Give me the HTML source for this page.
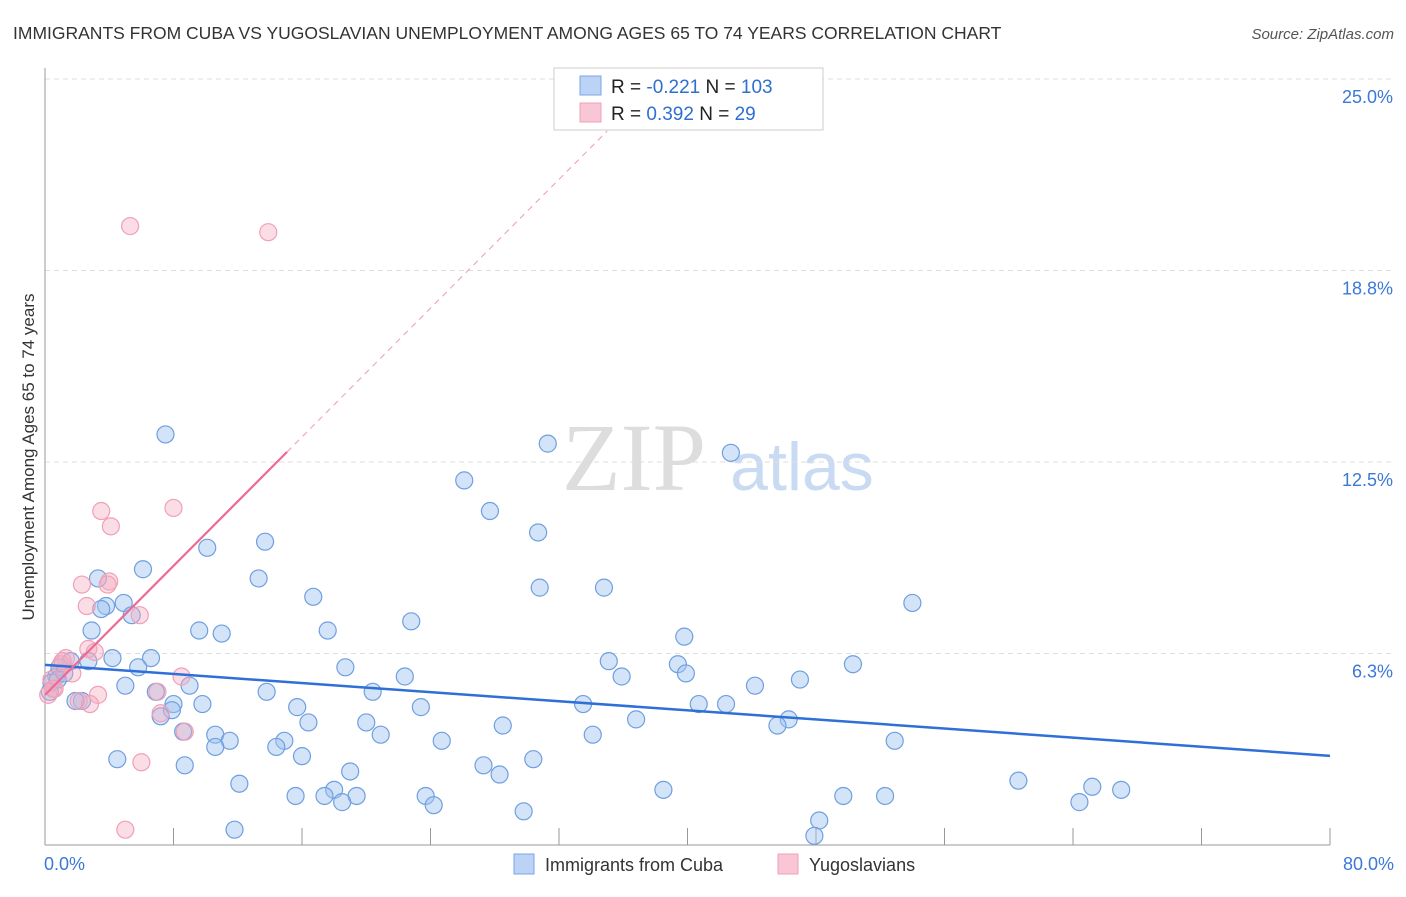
<!DOCTYPE html>
<html><head><meta charset="utf-8"><style>
body{margin:0;background:#fff;font-family:"Liberation Sans",sans-serif;}
svg text{font-family:"Liberation Sans",sans-serif;}
</style></head><body>
<svg id="chart" width="1406" height="892" xmlns="http://www.w3.org/2000/svg">
<text x="13" y="39" font-size="17.5" fill="#333">IMMIGRANTS FROM CUBA VS YUGOSLAVIAN UNEMPLOYMENT AMONG AGES 65 TO 74 YEARS CORRELATION CHART</text>
<text x="1394" y="39" font-size="15" fill="#555" text-anchor="end" font-style="italic">Source: ZipAtlas.com</text>
<g>
<text x="634" y="490" font-size="96" fill="#ddd" text-anchor="middle" font-family="Liberation Serif" style="font-family:'Liberation Serif',serif">ZIP</text>
<text x="802" y="490" font-size="68" fill="#c9daf3" text-anchor="middle">atlas</text>
</g>
<g id="grid"></g>
<g id="axes"></g>
<g id="pts"></g>
<g id="trend"></g>
<text transform="translate(34,457) rotate(-90)" font-size="17" fill="#333" text-anchor="middle">Unemployment Among Ages 65 to 74 years</text>
<g>
<rect x="554" y="68" width="269" height="62" fill="#fff" stroke="#ccc"/>
<rect x="580" y="76" width="21" height="19" fill="#bcd3f5" stroke="#7aa6e6"/>
<rect x="580" y="103" width="21" height="19" fill="#f8c6d4" stroke="#f0a0b8"/>
<text x="611" y="93" font-size="19" fill="#222">R = <tspan fill="#2f6fd0">-0.221</tspan>   N = <tspan fill="#2f6fd0">103</tspan></text>
<text x="611" y="120" font-size="19" fill="#222">R =  <tspan fill="#2f6fd0">0.392</tspan>   N =   <tspan fill="#2f6fd0">29</tspan></text>
</g>
<g>
<rect x="514" y="854" width="20" height="20" fill="#bcd3f5" stroke="#7aa6e6"/>
<text x="545" y="871" font-size="18" fill="#333">Immigrants from Cuba</text>
<rect x="778" y="854" width="20" height="20" fill="#f8c6d4" stroke="#f0a0b8"/>
<text x="809" y="871" font-size="18" fill="#333">Yugoslavians</text>
</g>
</svg>
<script>
const yTicks=[25.0,18.8,12.5,6.3];
const yTickPos=[25,18.75,12.5,6.25];
const xTickLabels=["0.0%","80.0%"];
const cubaX=[7.5,31.3,42.7,26.1,27.7,30.7,10.1,13.7,6.1,3.3,13.3,30.8,34.8,16.7,54.0,4.9,3.8,3.5,5.4,22.8,9.6,11.0,17.6,39.8,2.9,6.6,4.2,2.7,1.6,35.1,39.4,50.3,5.8,18.7,35.9,39.9,22.4,47.0,44.2,5.0,9.0,6.9,20.4,13.8,8.0,9.8,33.5,40.7,42.4,2.3,1.9,15.7,23.4,7.9,7.2,16.4,36.8,46.3,20.0,45.6,28.5,8.6,10.6,20.9,11.5,34.1,24.7,52.9,14.9,14.4,10.6,16.0,30.4,4.5,8.7,27.3,19.0,28.3,12.1,60.6,65.2,67.0,18.0,15.6,17.4,19.4,38.5,52.3,49.7,23.7,18.5,24.2,64.4,29.8,48.2,11.8,47.9,0.7,0.9,0.4,1.2,0.8,0.3];
const cubaY=[13.4,13.1,12.8,11.9,10.9,10.2,9.7,9.9,9.0,8.7,8.7,8.4,8.4,8.1,7.9,7.9,7.8,7.7,7.5,7.3,7.0,6.9,7.0,6.8,7.0,6.1,6.1,6.0,6.0,6.0,5.9,5.9,5.8,5.8,5.5,5.6,5.5,5.4,5.2,5.2,5.2,5.0,5.0,5.0,4.6,4.6,4.6,4.6,4.6,4.7,4.7,4.5,4.5,4.4,4.2,4.0,4.1,4.1,4.0,3.9,3.9,3.7,3.6,3.6,3.4,3.6,3.4,3.4,3.4,3.2,3.2,2.9,2.8,2.8,2.6,2.6,2.4,2.3,2.0,2.1,1.9,1.8,1.8,1.6,1.6,1.6,1.8,1.6,1.6,1.6,1.4,1.3,1.4,1.1,0.8,0.5,0.3,5.5,5.8,5.3,5.6,5.4,5.0];
const yugoX=[5.3,13.9,3.5,8.0,4.1,2.3,4.0,3.9,2.6,5.9,2.7,3.1,1.3,1.0,1.7,8.5,0.4,0.6,0.2,0.5,3.3,2.1,2.8,7.0,7.2,8.7,6.0,5.0,1.1];
const yugoY=[20.2,20.0,10.9,11.0,10.4,8.5,8.6,8.5,7.8,7.5,6.4,6.3,6.1,5.9,5.6,5.5,5.4,5.1,4.9,5.1,4.9,4.7,4.6,5.0,4.3,3.7,2.7,0.5,6.0];
const cubaTrend=[[0,5.88],[80,2.91]];
const yugoTrendSolid=[[0,4.9],[15.07,12.83]];
const yugoTrendDash=[[15.07,12.83],[35.0,23.3]];

const NS="http://www.w3.org/2000/svg";
const X=v=>45+v/80*1285;
const Y=v=>845-v/25*766;
function mk(tag,attrs,parent){const e=document.createElementNS(NS,tag);for(const k in attrs)e.setAttribute(k,attrs[k]);parent.appendChild(e);return e;}
const grid=document.getElementById('grid'),axes=document.getElementById('axes'),pts=document.getElementById('pts'),trend=document.getElementById('trend');
yTickPos.forEach((t,i)=>{
 const l=mk('line',{x1:45,x2:1394,y1:Y(t),y2:Y(t),stroke:'#ddd','stroke-dasharray':'5,4'},grid);
 
 
 const tx=mk('text',{x:1393,y:Y(t)+24,'font-size':18,fill:'#3b78d8','text-anchor':'end'},axes);
 tx.textContent=yTicks[i].toFixed(1)+'%';
 
 
});
const ya=mk('line',{x1:45,x2:45,y1:68,y2:845,stroke:'#999'},axes);


const xa=mk('line',{x1:45,x2:1330,y1:845,y2:845,stroke:'#999'},axes);


for(let v=8;v<=80;v+=8){
 const t=mk('line',{x1:X(v),x2:X(v),y1:828,y2:845,stroke:'#999'},axes);
 
 
}
[[0,'start',44],[80,'end',1394]].forEach((d,i)=>{
 const t=mk('text',{x:d[2],y:870,'font-size':18,fill:'#3b78d8','text-anchor':d[1]},axes);
 t.textContent=xTickLabels[i];
 
 
});
cubaX.forEach((x,i)=>{
 const c=mk('circle',{cx:X(x),cy:Y(cubaY[i]),r:8.5,fill:'rgba(160,196,240,0.45)',stroke:'#6f9fe0','stroke-width':1.2},pts);
 
 
});
yugoX.forEach((x,i)=>{
 const c=mk('circle',{cx:X(x),cy:Y(yugoY[i]),r:8.5,fill:'rgba(245,170,190,0.4)',stroke:'#f0a0b8','stroke-width':1.2},pts);
 
 
});
function ln(p,attrs,name){const l=mk('line',Object.assign({x1:X(p[0][0]),y1:Y(p[0][1]),x2:X(p[1][0]),y2:Y(p[1][1])},attrs),trend);
 
 }
ln(cubaTrend,{stroke:'#2f6fd8','stroke-width':2.5},'cuba-trend-line');
ln(yugoTrendSolid,{stroke:'#ec6a94','stroke-width':2.2},'yugoslavian-trend-line');
ln(yugoTrendDash,{stroke:'#f0a8c0','stroke-width':1.2,'stroke-dasharray':'6,5'},'yugoslavian-trend-extension');
</script>
</body></html>
